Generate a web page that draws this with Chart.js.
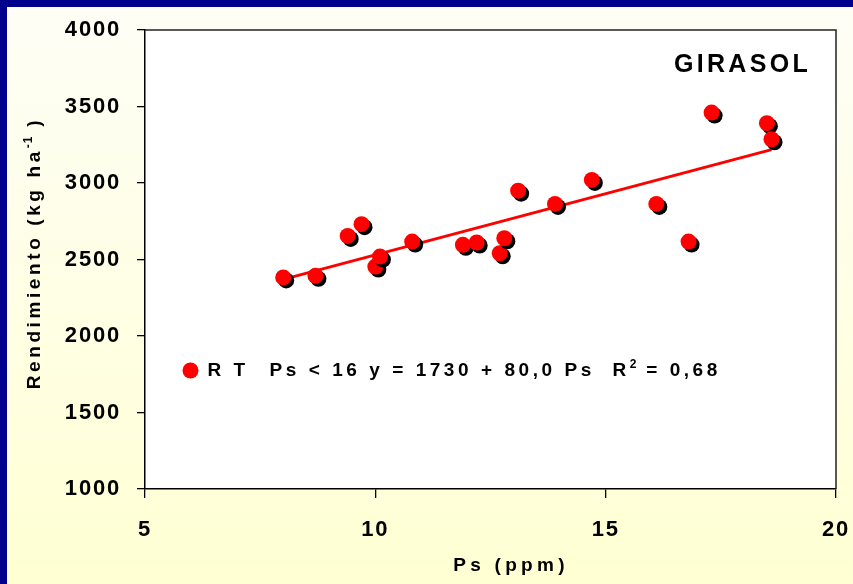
<!DOCTYPE html>
<html><head><meta charset="utf-8">
<script src="https://cdn.jsdelivr.net/npm/chart.js@4.4.1/dist/chart.umd.min.js"></script>
<style>html,body{margin:0;padding:0;background:#fff;overflow:hidden}#wrap{width:853px;height:584px}</style>
</head><body><div id="wrap"><canvas id="c" width="853" height="584"></canvas></div>
<script>
// ---- data ----
const psValues    = [8.0, 8.7, 9.4, 9.7, 10.0, 10.1, 10.8, 11.9, 12.2, 12.7, 12.8, 13.1, 13.9, 14.7, 16.1, 16.8, 17.3, 18.5, 18.6];
const yieldValues = [2383, 2393, 2654, 2731, 2454, 2519, 2617, 2596, 2611, 2541, 2639, 2950, 2863, 3020, 2863, 2617, 3460, 3391, 3286];
const trendPs     = [8.0, 18.6];
const trendYield  = [2370, 3218];
const xTickValues = [5, 10, 15, 20];
const yTickValues = [1000, 1500, 2000, 2500, 3000, 3500, 4000];
const seriesLabel = 'R T';
const eqMain = 'Ps < 16 y = 1730 + 80,0 Ps  R';
const eqSup = '2';
const eqTail = ' = 0,68';
const cropLabel = 'GIRASOL';
const xTitle = 'Ps (ppm)';
const yTitleMain = 'Rendimiento (kg ha';
const yTitleSup = '-1';
const yTitleTail = ' )';

const FONT = "'Liberation Sans', Arial, sans-serif";
const scatterPts = psValues.map((x, i) => ({x, y: yieldValues[i]}));
const trendPts = trendPs.map((x, i) => ({x, y: trendYield[i]}));

function drawParts(ctx, parts, x, y, align) {
  let total = 0;
  parts.forEach(p => { ctx.font = 'bold ' + p.size + 'px ' + FONT; ctx.letterSpacing = p.spacing + 'px'; p.w = ctx.measureText(p.t).width; total += p.w; });
  let cx = align === 'center' ? x - total / 2 : x;
  ctx.textAlign = 'left';
  ctx.textBaseline = 'alphabetic';
  parts.forEach(p => { ctx.font = 'bold ' + p.size + 'px ' + FONT; ctx.letterSpacing = p.spacing + 'px'; ctx.fillText(p.t, cx, y + (p.dy || 0)); cx += p.w; });
}

const decor = {
  id: 'decor',
  beforeDraw(chart) {
    const ctx = chart.ctx, W = chart.width, H = chart.height, a = chart.chartArea;
    ctx.save();
    const g = ctx.createLinearGradient(0, 0, 0, H);
    g.addColorStop(0, '#FEFEF7');
    g.addColorStop(1, '#FFFFD3');
    ctx.fillStyle = g;
    ctx.fillRect(0, 0, W, H);
    ctx.fillStyle = '#00008C';
    ctx.fillRect(0, 0, W, 7);
    ctx.fillRect(0, 0, 7, H);
    ctx.fillStyle = '#FFFFFF';
    ctx.fillRect(a.left, a.top, a.right - a.left, a.bottom - a.top);
    ctx.restore();
    ctx.letterSpacing = '1.8px';
  },
  beforeDatasetDraw(chart, args) {
    if (args.index === 0) {
      const ctx = chart.ctx;
      ctx.save();
      ctx.shadowColor = '#000';
      ctx.shadowOffsetX = 3;
      ctx.shadowOffsetY = 3;
      ctx.shadowBlur = 0;
    }
  },
  afterDatasetDraw(chart, args) {
    if (args.index === 0) chart.ctx.restore();
  },
  afterDraw(chart) {
    const ctx = chart.ctx, a = chart.chartArea;
    ctx.save();
    ctx.strokeStyle = '#222';
    ctx.lineWidth = 1.5;
    ctx.beginPath();
    ctx.moveTo(a.left, a.top);
    ctx.lineTo(a.right, a.top);
    ctx.lineTo(a.right, a.bottom);
    ctx.stroke();
    ctx.fillStyle = '#000';
    drawParts(ctx, [{t: cropLabel, size: 25, spacing: 3.3}], 674, 72, 'left');
    ctx.fillStyle = '#FF0000';
    ctx.beginPath();
    ctx.arc(190.5, 370.5, 8, 0, Math.PI * 2);
    ctx.fill();
    ctx.fillStyle = '#000';
    drawParts(ctx, [{t: seriesLabel, size: 19, spacing: 3.5}], 207.5, 376, 'left');
    drawParts(ctx, [{t: eqMain, size: 19, spacing: 3.55}, {t: eqSup, size: 12, spacing: 1, dy: -8}, {t: eqTail, size: 19, spacing: 3.55}], 269.5, 376, 'left');
    drawParts(ctx, [{t: xTitle, size: 19, spacing: 4.3}], 511, 571, 'center');
    ctx.save();
    ctx.translate(40, 253);
    ctx.rotate(-Math.PI / 2);
    drawParts(ctx, [{t: yTitleMain, size: 19, spacing: 3.6}, {t: yTitleSup, size: 12, spacing: 1, dy: -8}, {t: yTitleTail, size: 19, spacing: 3.6}], 0, 0, 'center');
    ctx.restore();
    ctx.restore();
  }
};

new Chart(document.getElementById('c'), {
  type: 'scatter',
  data: {
    datasets: [
      {
        label: seriesLabel,
        data: scatterPts,
        backgroundColor: '#FF0000',
        borderWidth: 0,
        pointRadius: 8,
        pointHoverRadius: 8,
        order: 1
      },
      {
        type: 'line',
        label: 'trend',
        data: trendPts,
        borderColor: '#FF0000',
        borderWidth: 3,
        pointRadius: 0,
        fill: false,
        showLine: true,
        order: 2
      }
    ]
  },
  options: {
    responsive: false,
    devicePixelRatio: 1,
    animation: false,
    layout: {padding: {top: 30, right: 17, left: 0, bottom: 0}},
    plugins: {legend: {display: false}, tooltip: {enabled: false}},
    scales: {
      x: {
        type: 'linear', min: 5, max: 20,
        afterBuildTicks: s => { s.ticks = xTickValues.map(v => ({value: v})); },
        afterFit: s => { s.height = 95; s.paddingLeft = 0; s.paddingRight = 0; },
        ticks: {color: '#000', font: {family: FONT, size: 22, weight: 'bold'}, padding: 19, maxRotation: 0, callback: v => String(v)},
        grid: {drawOnChartArea: false, drawTicks: true, tickLength: 9, color: '#000', lineWidth: 1.3},
        border: {display: true, color: '#000', width: 1.5}
      },
      y: {
        type: 'linear', min: 1000, max: 4000,
        afterBuildTicks: s => { s.ticks = yTickValues.map(v => ({value: v})); },
        afterFit: s => { s.width = 145; s.paddingTop = 0; s.paddingBottom = 0; },
        ticks: {color: '#000', font: {family: FONT, size: 22, weight: 'bold'}, padding: 16, callback: v => String(v)},
        grid: {drawOnChartArea: false, drawTicks: true, tickLength: 8, color: '#000', lineWidth: 1.3},
        border: {display: true, color: '#000', width: 1.5}
      }
    }
  },
  plugins: [decor]
});
</script>
</body></html>
